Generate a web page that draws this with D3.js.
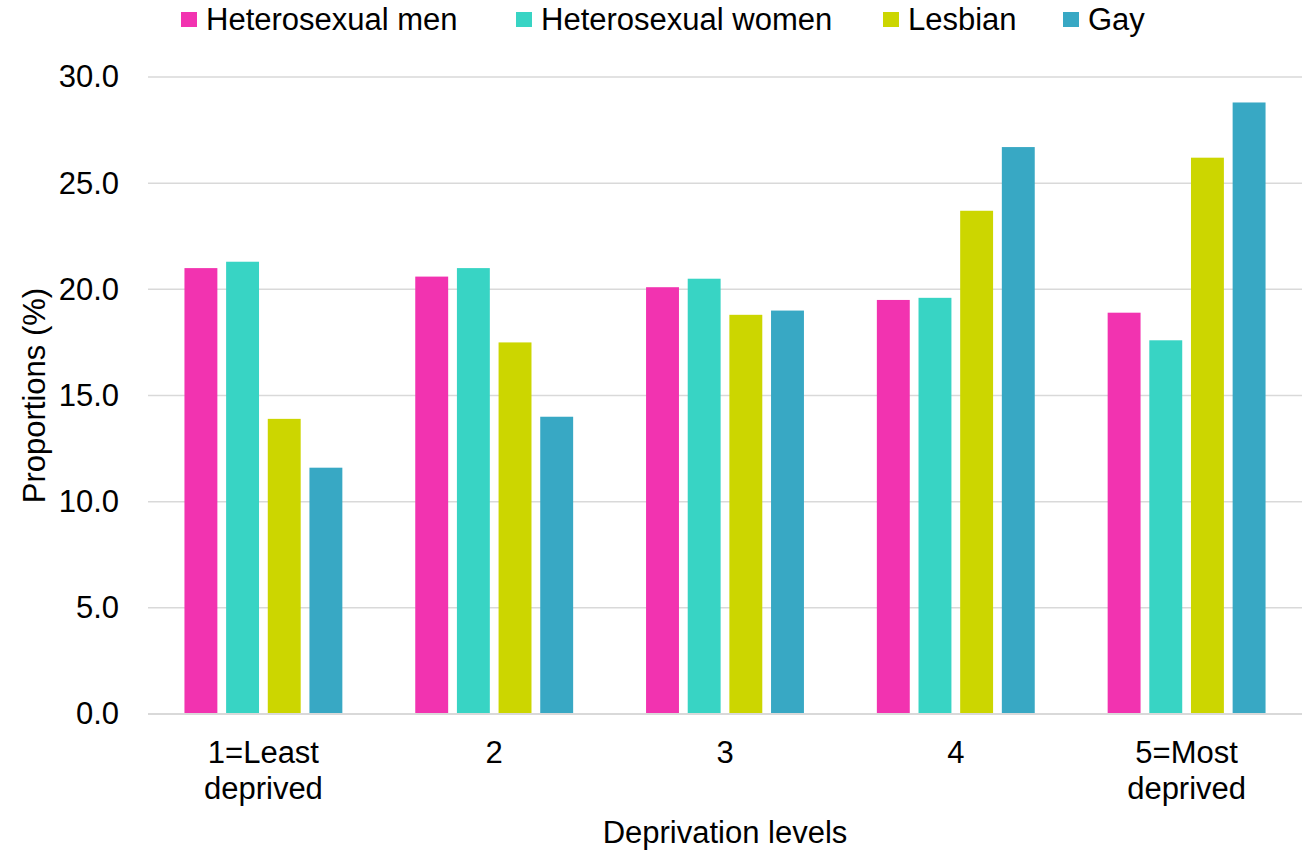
<!DOCTYPE html>
<html>
<head>
<meta charset="utf-8">
<script src="https://cdn.jsdelivr.net/npm/d3@7"></script>
<style>
  html, body { margin: 0; padding: 0; background: #fff; }
  svg { display: block; font-family: "Liberation Sans", Arial, sans-serif; }
</style>
</head>
<body>
<svg id="chart" width="1309" height="852"></svg>
<script>
// Deprivation level categories (multi-line labels)
const categories = ["1=Least\ndeprived", "2", "3", "4", "5=Most\ndeprived"];
const seriesNames = ["Heterosexual men", "Heterosexual women", "Lesbian", "Gay"];
const seriesColors = ["#F233B0", "#38D4C4", "#CCD600", "#38A8C4"];

const heteroMen   = [21.0, 20.6, 20.1, 19.5, 18.9];
const heteroWomen = [21.3, 21.0, 20.5, 19.6, 17.6];
const lesbian     = [13.9, 17.5, 18.8, 23.7, 26.2];
const gay         = [11.6, 14.0, 19.0, 26.7, 28.8];

const yTicks = [0, 5, 10, 15, 20, 25, 30];

const seriesValues = [heteroMen, heteroWomen, lesbian, gay];

const FONT = 31;
const svg = d3.select("#chart");
const margin = { left: 148, right: 7, top: 77, bottom: 138 };
const W = 1309, H = 852;
const plotW = W - margin.left - margin.right;
const plotH = H - margin.top - margin.bottom;

const g = svg.append("g").attr("transform", `translate(${margin.left},${margin.top})`);

const y = d3.scaleLinear().domain([0, 30]).range([plotH, 0]);
const x0 = d3.scaleBand().domain(d3.range(categories.length)).range([0, plotW]).padding(0);
const x1 = d3.scaleBand().domain(d3.range(seriesNames.length))
  .range([0, x0.bandwidth()]).paddingInner(0.21).paddingOuter(0.875);

// gridlines
g.append("g").selectAll("line").data(yTicks.filter(t => t > 0)).join("line")
  .attr("x1", 0).attr("x2", plotW)
  .attr("y1", d => y(d)).attr("y2", d => y(d))
  .attr("stroke", "#d9d9d9").attr("stroke-width", 1.5);

// bars
const groups = g.append("g").selectAll("g").data(categories.map((c, i) => i)).join("g")
  .attr("transform", i => `translate(${x0(i)},0)`);
groups.selectAll("rect")
  .data(i => seriesValues.map((vals, s) => ({ s, v: vals[i] })))
  .join("rect")
  .attr("x", d => x1(d.s))
  .attr("width", x1.bandwidth())
  .attr("y", d => y(d.v))
  .attr("height", d => y(0) - y(d.v))
  .attr("fill", d => seriesColors[d.s]);

// x axis baseline
g.append("line").attr("x1", 0).attr("x2", plotW)
  .attr("y1", y(0)).attr("y2", y(0))
  .attr("stroke", "#d9d9d9").attr("stroke-width", 2);

// y tick labels
const yAxis = d3.axisLeft(y).tickValues(yTicks).tickFormat(d3.format(".1f")).tickSize(0).tickPadding(29);
const ya = g.append("g").call(yAxis);
ya.select(".domain").remove();
ya.selectAll("text").attr("font-size", FONT).attr("fill", "#000")
  .attr("font-family", "Liberation Sans, Arial, sans-serif");

// x category labels
const xl = g.append("g").selectAll("text").data(categories.map((c, i) => i)).join("text")
  .attr("text-anchor", "middle")
  .attr("font-size", FONT)
  .attr("fill", "#000")
  .attr("transform", i => `translate(${x0(i) + x0.bandwidth() / 2},${plotH + 49})`);
xl.selectAll("tspan").data(i => categories[i].split("\n")).join("tspan")
  .attr("x", 0).attr("dy", (d, k) => k === 0 ? 0 : 36).text(d => d);

// axis titles
svg.append("text").attr("x", margin.left + plotW / 2).attr("y", 843)
  .attr("text-anchor", "middle").attr("font-size", FONT).attr("fill", "#000")
  .text("Deprivation levels");
svg.append("text").attr("transform", `translate(45,${margin.top + plotH / 2}) rotate(-90)`)
  .attr("text-anchor", "middle").attr("font-size", FONT).attr("fill", "#000")
  .text("Proportions (%)");

// legend
const legendX = [181, 516, 883, 1063];
const lg = svg.append("g").selectAll("g").data(seriesNames).join("g")
  .attr("transform", (d, i) => `translate(${legendX[i]},0)`);
lg.append("rect").attr("x", 0).attr("y", 12).attr("width", 16).attr("height", 15)
  .attr("fill", (d, i) => seriesColors[i]);
lg.append("text").attr("x", 25).attr("y", 30).attr("font-size", FONT).attr("fill", "#000")
  .text(d => d);
</script>
</body>
</html>
